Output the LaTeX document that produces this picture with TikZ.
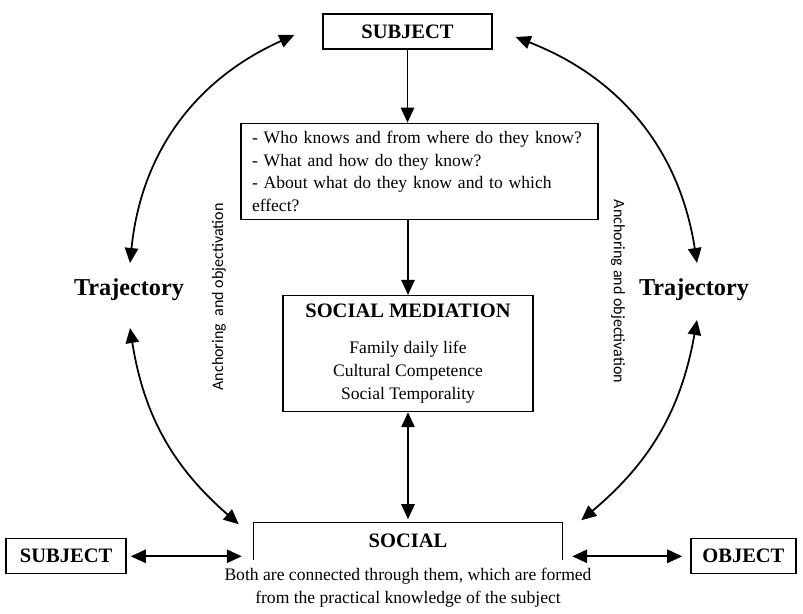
\documentclass[tikz,border=0pt]{standalone}
\usepackage{fontspec}
\setmainfont{Liberation Serif}
\newfontfamily\anchorfont{Carlito}
\usepackage{tikz}
\usetikzlibrary{arrows.meta,positioning}
\tikzstyle{box} = [rectangle, draw=black, line width=1.1pt, inner sep=0pt, text centered]
\tikzstyle{title} = [font=\bfseries\fontsize{17.5}{21}\selectfont]
\tikzstyle{body} = [font=\fontsize{15}{19.3}\selectfont]
\tikzstyle{traj} = [font=\bfseries\fontsize{20.7}{24}\selectfont]
\tikzstyle{anchortext} = [font=\anchorfont\fontsize{13.7}{16}\selectfont]
\tikzstyle{arrow} = [line width=1.5pt, -{Triangle[length=4.5mm,width=4mm]}]
\tikzstyle{dblarrow} = [line width=1.5pt, {Triangle[length=4.5mm,width=4mm]}-{Triangle[length=4.5mm,width=4mm]}]

\begin{document}
\begin{tikzpicture}[x=0.3mm, y=-0.3mm]
\useasboundingbox (0,0) rectangle (803,613);
% central column
\node (subjTop) [box, title, minimum width=50.7mm, minimum height=10.5mm] at (407.5,31.5) {SUBJECT};
\node (questions) [box, body, below=21.9mm of subjTop, xshift=3.6mm, minimum height=28.8mm, text width=100.5mm, inner xsep=3.3mm, inner ysep=0.5mm, align=left] {- Who knows and from where do they know?\\ - What and how do they know?\\ - About what do they know and to which\\ effect?};
\node (mediation) [box, body, below=22.5mm of questions, xshift=-3.45mm, minimum width=75mm, minimum height=34.8mm, align=center] {{\bfseries\fontsize{17.5}{21}\selectfont SOCIAL MEDIATION}\\[11.5pt] Family daily life\\ Cultural Competence\\ Social Temporality};
\node (social) [title, inner sep=0pt, minimum width=92.4mm, minimum height=11.1mm, below=33mm of mediation] {SOCIAL};
\draw[line width=1.1pt] (social.south west) -- (social.north west) -- (social.north east) -- (social.south east);
\node (note) [body, inner sep=0pt, align=center, below=2.6mm of social] {Both are connected through them, which are formed\\ from the practical knowledge of the subject};

% side nodes
\node (subjLeft) [box, title, minimum width=36mm, minimum height=10.5mm, left=38.1mm of social, yshift=-4.6mm] {SUBJECT};
\node (object) [box, title, minimum width=31.5mm, minimum height=10.5mm, right=38.4mm of social, yshift=-4.6mm] {OBJECT};
\node (trajLeft) [traj] at (129,290) {Trajectory};
\node (trajRight) [traj] at (694,290) {Trajectory};
\node (anchorLeft) [anchortext, rotate=90] at (219,297) {Anchoring\ \ and objectivation};
\node (anchorRight) [anchortext, rotate=-90] at (618,291.5) {Anchoring and objectivation};

% arrows
\draw[arrow] (subjTop.south) -- (subjTop.south |- questions.north);
\draw[arrow] (questions.south -| mediation.north) -- (mediation.north);
\draw[dblarrow, shorten >=0.9mm] (mediation.south) -- (mediation.south |- social.north);
\draw[dblarrow, shorten <=1.2mm, shorten >=3.6mm] (subjLeft.east) -- (subjLeft.east -| social.west);
\draw[dblarrow, shorten <=3mm, shorten >=2.4mm] (object.west -| social.east) -- (object.west);
\draw[dblarrow] ([shift={(1,-27)}]trajLeft.center) to[bend left=30] ([shift={(-28,3.5)}]subjTop.west);
\draw[dblarrow] ([shift={(3,-27)}]trajRight.center) to[bend right=30] ([shift={(23,5.5)}]subjTop.east);
\draw[dblarrow] ([shift={(1,38)}]trajLeft.center) to[bend right=20] ([shift={(-15,2)}]social.north west);
\draw[dblarrow] ([shift={(3,30)}]trajRight.center) to[bend left=20] ([shift={(19,-2)}]social.north east);
\end{tikzpicture}
\end{document}
